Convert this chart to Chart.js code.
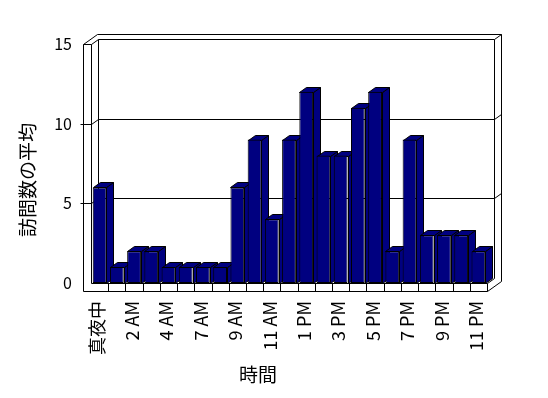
<!DOCTYPE html>
<html>
<head>
<meta charset="utf-8">
<script src="https://cdn.jsdelivr.net/npm/chart.js@4/dist/chart.umd.min.js"></script>
<style>
  html, body { margin: 0; padding: 0; background: #fff; }
</style>
</head>
<body>
<canvas id="chart" width="548" height="398"></canvas>
<script>
// categories (one hour is missing in the source data)
const hours = ['真夜中', '1 AM', '2 AM', '3 AM', '4 AM', '5 AM', '7 AM', '8 AM', '9 AM', '10 AM', '11 AM', '正午',
  '1 PM', '2 PM', '3 PM', '4 PM', '5 PM', '6 PM', '7 PM', '8 PM', '9 PM', '10 PM', '11 PM'];
const visits = [6, 1, 2, 2, 1, 1, 1, 1, 6, 9, 4, 9, 12, 8, 8, 11, 12, 2, 9, 3, 3, 3, 2];
const yTicks = [0, 5, 10, 15];
const yTitle = '訪問数の平均';
const xTitle = '時間';

const FONT = '"Noto Sans CJK JP", "DejaVu Sans", sans-serif';
const NAVY = '#000080';
const DX = 7, DY = -5;   // depth of the bars / back wall
const WALL = 8;          // thickness of the left wall and the floor

function path(ctx, pts, fill) {
  ctx.beginPath();
  ctx.moveTo(pts[0][0], pts[0][1]);
  for (let i = 1; i < pts.length; i++) ctx.lineTo(pts[i][0], pts[i][1]);
  if (fill) {
    ctx.closePath();
    ctx.fillStyle = fill;
    ctx.fill();
  }
  ctx.stroke();
}

const box3d = {
  id: 'box3d',
  beforeDatasetsDraw(chart) {
    const { ctx, chartArea: a, scales: { x, y } } = chart;
    const L = Math.round(a.left), R = Math.round(a.right);
    const T = Math.round(y.getPixelForValue(yTicks[yTicks.length - 1]));
    const B = Math.round(y.getPixelForValue(0));
    const L0 = L - WALL, Bf = B + WALL;

    ctx.save();
    ctx.translate(0.5, 0.5);
    ctx.strokeStyle = '#000';
    ctx.lineWidth = 1;

    // back wall + top
    path(ctx, [[L0, T], [L0 + 2 * DX, T + 2 * DY], [R + 2 * DX, T + 2 * DY], [R + 2 * DX, Bf + 2 * DY], [R, Bf], [L0, Bf]], '#fff');
    path(ctx, [[L, T], [L + DX, T + DY], [R + DX, T + DY], [R + 2 * DX, T + 2 * DY]]);
    path(ctx, [[L + DX, T + DY], [L + DX, B + DY]]);
    path(ctx, [[R + DX, T + DY], [R + DX, B + DY], [R, B]]);

    // left wall
    path(ctx, [[L0, T], [L, T], [L, B]]);

    // gridlines
    yTicks.slice(1, -1).forEach(v => {
      const py = Math.round(y.getPixelForValue(v));
      path(ctx, [[L0 - 3, py], [L, py], [L + DX, py + DY], [R + DX, py + DY], [R + 2 * DX, py + 2 * DY]]);
    });

    // floor
    path(ctx, [[L, B], [R, B], [R, Bf]]);
    for (let i = 1; i < hours.length; i++) {
      const px = Math.round((x.getPixelForValue(i - 1) + x.getPixelForValue(i)) / 2);
      path(ctx, [[px, B], [px, Bf]]);
    }

    // bar tops and sides
    chart.getDatasetMeta(0).data.forEach(bar => {
      const p = bar.getProps(['x', 'y', 'base', 'width'], true);
      const l = Math.round(p.x - p.width / 2), r = Math.round(p.x + p.width / 2);
      const t = Math.round(p.y), b = Math.round(p.base);
      path(ctx, [[r, t], [r + DX, t + DY], [r + DX, b + DY], [r, b]], NAVY);
      path(ctx, [[l, t], [l + DX, t + DY], [r + DX, t + DY], [r, t]], NAVY);
    });
    ctx.restore();
  },
  afterDraw(chart) {
    const ctx = chart.ctx;
    ctx.save();
    ctx.fillStyle = '#000';
    ctx.font = '19px ' + FONT;
    ctx.textAlign = 'center';
    ctx.textBaseline = 'middle';
    ctx.fillText(xTitle, 258, 375);
    ctx.translate(28, 180);
    ctx.rotate(-Math.PI / 2);
    ctx.fillText(yTitle, 0, 0);
    ctx.restore();
  }
};

new Chart(document.getElementById('chart'), {
  type: 'bar',
  data: {
    labels: hours,
    datasets: [{
      data: visits,
      backgroundColor: NAVY,
      borderColor: '#000',
      borderWidth: 1,
      borderSkipped: false,
      categoryPercentage: 1,
      barPercentage: 0.8
    }]
  },
  options: {
    responsive: false,
    animation: false,
    layout: { padding: { left: 0, right: 61, top: 44, bottom: 0 } },
    plugins: { legend: { display: false }, tooltip: { enabled: false } },
    scales: {
      x: {
        afterFit: s => { s.height = 115; },
        grid: { display: false, drawTicks: false },
        border: { display: false },
        ticks: {
          autoSkip: false,
          minRotation: 90,
          maxRotation: 90,
          padding: 18,
          labelOffset: -2,
          color: '#000',
          font: { family: FONT, size: 18 },
          callback: (v, i) => i % 2 === 0 ? hours[i] : ''
        }
      },
      y: {
        min: yTicks[0],
        max: yTicks[yTicks.length - 1],
        afterFit: s => { s.width = 91; },
        grid: { display: false, drawTicks: false },
        border: { display: false },
        ticks: {
          stepSize: yTicks[1] - yTicks[0],
          padding: 19,
          color: '#000',
          font: { family: FONT, size: 16 }
        }
      }
    }
  },
  plugins: [box3d]
});
</script>
</body>
</html>
